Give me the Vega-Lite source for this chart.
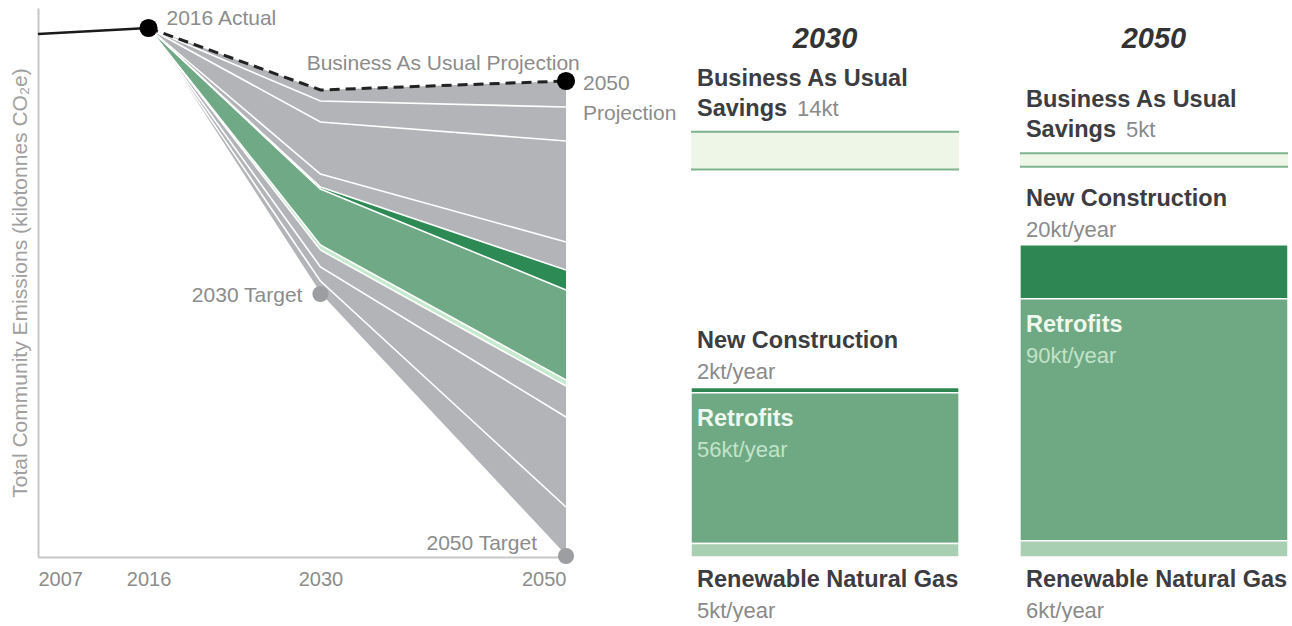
{
  "$schema": "https://vega.github.io/schema/vega-lite/v6.json",
  "background": "white",
  "padding": {"left": 9, "top": 8, "right": 0, "bottom": 0},
  "bounds": "flush",
  "spacing": 125,
  "config": {"view": {"stroke": null}, "font": "Liberation Sans"},
  "resolve": {"scale": {"color": "independent"}},
  "datasets": {
    "bands": [
      {"band": "g1", "kind": "other", "year": 2016, "hi": 529, "lo": 529},
      {"band": "g1", "kind": "other", "year": 2030, "hi": 467, "lo": 456},
      {"band": "g1", "kind": "other", "year": 2050, "hi": 476, "lo": 450},
      {"band": "g2", "kind": "other", "year": 2016, "hi": 529, "lo": 529},
      {"band": "g2", "kind": "other", "year": 2030, "hi": 456, "lo": 435},
      {"band": "g2", "kind": "other", "year": 2050, "hi": 450, "lo": 416},
      {"band": "g3", "kind": "other", "year": 2016, "hi": 529, "lo": 529},
      {"band": "g3", "kind": "other", "year": 2030, "hi": 435, "lo": 383},
      {"band": "g3", "kind": "other", "year": 2050, "hi": 416, "lo": 315},
      {"band": "g4", "kind": "other", "year": 2016, "hi": 529, "lo": 529},
      {"band": "g4", "kind": "other", "year": 2030, "hi": 383, "lo": 370},
      {"band": "g4", "kind": "other", "year": 2050, "hi": 315, "lo": 287},
      {"band": "nc", "kind": "nc", "year": 2016, "hi": 529, "lo": 529},
      {"band": "nc", "kind": "nc", "year": 2030, "hi": 370, "lo": 368},
      {"band": "nc", "kind": "nc", "year": 2050, "hi": 287, "lo": 267},
      {"band": "rf", "kind": "rf", "year": 2016, "hi": 529, "lo": 529},
      {"band": "rf", "kind": "rf", "year": 2030, "hi": 368, "lo": 312},
      {"band": "rf", "kind": "rf", "year": 2050, "hi": 267, "lo": 177},
      {"band": "rng", "kind": "rng", "year": 2016, "hi": 529, "lo": 529},
      {"band": "rng", "kind": "rng", "year": 2030, "hi": 312, "lo": 307},
      {"band": "rng", "kind": "rng", "year": 2050, "hi": 177, "lo": 171},
      {"band": "g5", "kind": "other", "year": 2016, "hi": 529, "lo": 529},
      {"band": "g5", "kind": "other", "year": 2030, "hi": 307, "lo": 290},
      {"band": "g5", "kind": "other", "year": 2050, "hi": 171, "lo": 140},
      {"band": "g6", "kind": "other", "year": 2016, "hi": 529, "lo": 529},
      {"band": "g6", "kind": "other", "year": 2030, "hi": 290, "lo": 276},
      {"band": "g6", "kind": "other", "year": 2050, "hi": 140, "lo": 50},
      {"band": "g7", "kind": "other", "year": 2016, "hi": 529, "lo": 529},
      {"band": "g7", "kind": "other", "year": 2030, "hi": 276, "lo": 263},
      {"band": "g7", "kind": "other", "year": 2050, "hi": 50, "lo": 1}
    ],
    "traj": [
      {"series": "actual", "year": 2007, "v": 523},
      {"series": "actual", "year": 2016, "v": 529},
      {"series": "bau", "year": 2016, "v": 529},
      {"series": "bau", "year": 2030, "v": 467},
      {"series": "bau", "year": 2050, "v": 476}
    ],
    "dots": [
      {"type": "actual", "year": 2016, "v": 529},
      {"type": "projection", "year": 2050, "v": 476},
      {"type": "target", "year": 2030, "v": 263},
      {"type": "target", "year": 2050, "v": 1}
    ],
    "notes": [
      {"id": "actual", "text": "2016 Actual", "year": 2016, "v": 529},
      {"id": "bau", "text": "Business As Usual Projection", "year": 2040, "v": 471.5},
      {"id": "proj", "text": "2050\nProjection", "year": 2050, "v": 476},
      {"id": "t2030", "text": "2030 Target", "year": 2030, "v": 263},
      {"id": "t2050", "text": "2050 Target", "year": 2050, "v": 1}
    ],
    "segs": [
      {"panel": "2030", "seg": "bau", "lo": 144, "hi": 158, "name1": "Business As Usual", "name2": "Savings", "amount": "14kt"},
      {"panel": "2030", "seg": "nc", "lo": 61, "hi": 63, "name1": "New Construction", "amount": "2kt/year"},
      {"panel": "2030", "seg": "rf", "lo": 5, "hi": 61, "name1": "Retrofits", "amount": "56kt/year"},
      {"panel": "2030", "seg": "rng", "lo": 0, "hi": 5, "name1": "Renewable Natural Gas", "amount": "5kt/year"},
      {"panel": "2050", "seg": "bau", "lo": 145, "hi": 150, "name1": "Business As Usual", "name2": "Savings", "amount": "5kt"},
      {"panel": "2050", "seg": "nc", "lo": 96, "hi": 116, "name1": "New Construction", "amount": "20kt/year"},
      {"panel": "2050", "seg": "rf", "lo": 6, "hi": 96, "name1": "Retrofits", "amount": "90kt/year"},
      {"panel": "2050", "seg": "rng", "lo": 0, "hi": 6, "name1": "Renewable Natural Gas", "amount": "6kt/year"}
    ]
  },
  "hconcat": [
    {
      "width": 528,
      "height": 549,
      "layer": [
        {
          "data": {"name": "bands"},
          "mark": {"type": "area", "opacity": 1},
          "encoding": {
            "x": {"field": "year", "type": "quantitative", "title": null,
              "scale": {"domain": [2007, 2050], "nice": false, "zero": false},
              "axis": {"values": [2007, 2016, 2030, 2050], "format": "d", "labelFlush": true, "labelFontSize": 20, "labelColor": "#8c8c8c", "labelPadding": 12, "ticks": false, "grid": false, "domainColor": "#c8c8c8", "domainWidth": 2}},
            "y": {"field": "hi", "type": "quantitative", "title": "Total Community Emissions (kilotonnes CO₂e)",
              "scale": {"domain": [0, 549], "nice": false},
              "axis": {"labels": false, "ticks": false, "grid": false, "domainColor": "#c8c8c8", "domainWidth": 2, "titleFontSize": 21, "titleFontWeight": "normal", "titleColor": "#a0a0a0", "titlePadding": 8}},
            "y2": {"field": "lo"},
            "color": {"field": "kind", "type": "nominal", "legend": null,
              "scale": {"domain": ["other", "nc", "rf", "rng"], "range": ["#b2b4b7", "#2e8a55", "#6fa985", "#c6eacd"]}},
            "detail": {"field": "band"}
          }
        },
        {
          "data": {"name": "bands"},
          "mark": {"type": "line", "color": "white", "strokeWidth": 1.6},
          "encoding": {
            "x": {"field": "year", "type": "quantitative", "title": null},
            "y": {"field": "lo", "type": "quantitative", "title": "Total Community Emissions (kilotonnes CO₂e)"},
            "detail": {"field": "band"}
          }
        },
        {
          "data": {"name": "traj"},
          "transform": [{"filter": "datum.series == 'actual'"}],
          "mark": {"type": "line", "color": "#1a1a1a", "strokeWidth": 2.5},
          "encoding": {
            "x": {"field": "year", "type": "quantitative", "title": null},
            "y": {"field": "v", "type": "quantitative", "title": "Total Community Emissions (kilotonnes CO₂e)"}
          }
        },
        {
          "data": {"name": "traj"},
          "transform": [{"filter": "datum.series == 'bau'"}],
          "mark": {"type": "line", "color": "#222222", "strokeWidth": 3, "strokeDash": [10, 6]},
          "encoding": {
            "x": {"field": "year", "type": "quantitative", "title": null},
            "y": {"field": "v", "type": "quantitative", "title": "Total Community Emissions (kilotonnes CO₂e)"}
          }
        },
        {
          "data": {"name": "dots"},
          "transform": [{"filter": "datum.type != 'target'"}],
          "mark": {"type": "circle", "color": "#000000", "opacity": 1, "size": 330},
          "encoding": {
            "x": {"field": "year", "type": "quantitative", "title": null},
            "y": {"field": "v", "type": "quantitative", "title": "Total Community Emissions (kilotonnes CO₂e)"}
          }
        },
        {
          "data": {"name": "dots"},
          "transform": [{"filter": "datum.type == 'target'"}],
          "mark": {"type": "circle", "color": "#9d9ea1", "opacity": 1, "size": 260},
          "encoding": {
            "x": {"field": "year", "type": "quantitative", "title": null},
            "y": {"field": "v", "type": "quantitative", "title": "Total Community Emissions (kilotonnes CO₂e)"}
          }
        },
        {
          "data": {"name": "notes"},
          "transform": [{"filter": "datum.id == 'actual'"}],
          "mark": {"type": "text", "align": "left", "baseline": "middle", "dx": 18, "dy": -9, "fontSize": 21, "color": "#8c8c8c"},
          "encoding": {
            "x": {"field": "year", "type": "quantitative", "title": null},
            "y": {"field": "v", "type": "quantitative", "title": "Total Community Emissions (kilotonnes CO₂e)"},
            "text": {"field": "text"}
          }
        },
        {
          "data": {"name": "notes"},
          "transform": [{"filter": "datum.id == 'bau'"}],
          "mark": {"type": "text", "align": "center", "baseline": "middle", "dy": -22, "fontSize": 21, "color": "#8c8c8c"},
          "encoding": {
            "x": {"field": "year", "type": "quantitative", "title": null},
            "y": {"field": "v", "type": "quantitative", "title": "Total Community Emissions (kilotonnes CO₂e)"},
            "text": {"field": "text"}
          }
        },
        {
          "data": {"name": "notes"},
          "transform": [{"filter": "datum.id == 'proj'"}],
          "mark": {"type": "text", "align": "left", "baseline": "top", "dx": 17, "dy": -8, "fontSize": 21, "lineHeight": 30, "lineBreak": "\n", "color": "#8c8c8c"},
          "encoding": {
            "x": {"field": "year", "type": "quantitative", "title": null},
            "y": {"field": "v", "type": "quantitative", "title": "Total Community Emissions (kilotonnes CO₂e)"},
            "text": {"field": "text"}
          }
        },
        {
          "data": {"name": "notes"},
          "transform": [{"filter": "datum.id == 't2030'"}],
          "mark": {"type": "text", "align": "right", "baseline": "middle", "dx": -18, "dy": 2, "fontSize": 21, "color": "#8c8c8c"},
          "encoding": {
            "x": {"field": "year", "type": "quantitative", "title": null},
            "y": {"field": "v", "type": "quantitative", "title": "Total Community Emissions (kilotonnes CO₂e)"},
            "text": {"field": "text"}
          }
        },
        {
          "data": {"name": "notes"},
          "transform": [{"filter": "datum.id == 't2050'"}],
          "mark": {"type": "text", "align": "right", "baseline": "middle", "dx": -29, "dy": -12, "fontSize": 21, "color": "#8c8c8c"},
          "encoding": {
            "x": {"field": "year", "type": "quantitative", "title": null},
            "y": {"field": "v", "type": "quantitative", "title": "Total Community Emissions (kilotonnes CO₂e)"},
            "text": {"field": "text"}
          }
        }
      ]
    },
    {
      "width": 597,
      "height": 549,
      "data": {"name": "segs"},
      "layer": [
        {
          "transform": [{"filter": "datum.seg != 'bau'"}],
          "mark": {"type": "bar", "stroke": "white", "strokeWidth": 1.5},
          "encoding": {
            "x": {"field": "panel", "type": "nominal", "title": null,
              "scale": {"domain": ["2030", "2050"], "paddingInner": 0.185, "paddingOuter": 0},
              "axis": {"orient": "top", "offset": -45, "labelFontSize": 29, "labelFontWeight": "bold", "labelFontStyle": "italic", "labelColor": "#333333", "labelAngle": 0, "labelBaseline": "bottom", "domain": false, "ticks": false, "tickSize": 0, "labelPadding": 0, "grid": false}},
            "y": {"field": "hi", "type": "quantitative", "title": null, "scale": {"domain": [0, 204], "nice": false}, "axis": null},
            "y2": {"field": "lo"},
            "color": {"field": "seg", "type": "nominal", "legend": null,
              "scale": {"domain": ["bau", "nc", "rf", "rng"], "range": ["#eef6e7", "#2e8753", "#6fa984", "#a8cfb2"]}}
          }
        },
        {
          "transform": [{"filter": "datum.seg == 'bau'"}],
          "mark": {"type": "bar"},
          "encoding": {
            "x": {"field": "panel", "type": "nominal", "title": null},
            "y": {"field": "hi", "type": "quantitative", "title": null},
            "y2": {"field": "lo"},
            "color": {"field": "seg", "type": "nominal", "legend": null}
          }
        },
        {
          "transform": [{"filter": "datum.seg == 'bau'"}],
          "mark": {"type": "tick", "orient": "horizontal", "size": 268, "thickness": 2, "color": "#7db38f", "opacity": 1},
          "encoding": {
            "x": {"field": "panel", "type": "nominal", "title": null},
            "y": {"field": "hi", "type": "quantitative", "title": null}
          }
        },
        {
          "transform": [{"filter": "datum.seg == 'bau'"}],
          "mark": {"type": "tick", "orient": "horizontal", "size": 268, "thickness": 2, "color": "#7db38f", "opacity": 1},
          "encoding": {
            "x": {"field": "panel", "type": "nominal", "title": null},
            "y": {"field": "lo", "type": "quantitative", "title": null}
          }
        },
        {
          "transform": [{"filter": "datum.seg == 'bau'"}],
          "mark": {"type": "text", "align": "left", "baseline": "middle", "dx": 6, "dy": -53, "fontSize": 23.5, "fontWeight": "bold", "color": "#3c3c41"},
          "encoding": {
            "x": {"field": "panel", "type": "nominal", "title": null, "bandPosition": 0},
            "y": {"field": "hi", "type": "quantitative", "title": null},
            "text": {"field": "name1"}
          }
        },
        {
          "transform": [{"filter": "datum.seg == 'bau'"}],
          "mark": {"type": "text", "align": "left", "baseline": "middle", "dx": 6, "dy": -23, "fontSize": 23.5, "fontWeight": "bold", "color": "#3c3c41"},
          "encoding": {
            "x": {"field": "panel", "type": "nominal", "title": null, "bandPosition": 0},
            "y": {"field": "hi", "type": "quantitative", "title": null},
            "text": {"field": "name2"}
          }
        },
        {
          "transform": [{"filter": "datum.seg == 'bau'"}],
          "mark": {"type": "text", "align": "left", "baseline": "middle", "dx": 106, "dy": -23, "fontSize": 22, "color": "#8a8a8a"},
          "encoding": {
            "x": {"field": "panel", "type": "nominal", "title": null, "bandPosition": 0},
            "y": {"field": "hi", "type": "quantitative", "title": null},
            "text": {"field": "amount"}
          }
        },
        {
          "transform": [{"filter": "datum.seg == 'nc'"}],
          "mark": {"type": "text", "align": "left", "baseline": "middle", "dx": 6, "dy": -46, "fontSize": 23.5, "fontWeight": "bold", "color": "#3c3c41"},
          "encoding": {
            "x": {"field": "panel", "type": "nominal", "title": null, "bandPosition": 0},
            "y": {"field": "hi", "type": "quantitative", "title": null},
            "text": {"field": "name1"}
          }
        },
        {
          "transform": [{"filter": "datum.seg == 'nc'"}],
          "mark": {"type": "text", "align": "left", "baseline": "middle", "dx": 6, "dy": -15, "fontSize": 22, "color": "#8a8a8a"},
          "encoding": {
            "x": {"field": "panel", "type": "nominal", "title": null, "bandPosition": 0},
            "y": {"field": "hi", "type": "quantitative", "title": null},
            "text": {"field": "amount"}
          }
        },
        {
          "transform": [{"filter": "datum.seg == 'rf'"}],
          "mark": {"type": "text", "align": "left", "baseline": "middle", "dx": 6, "dy": 26, "fontSize": 23.5, "fontWeight": "bold", "color": "#eef8ef"},
          "encoding": {
            "x": {"field": "panel", "type": "nominal", "title": null, "bandPosition": 0},
            "y": {"field": "hi", "type": "quantitative", "title": null},
            "text": {"field": "name1"}
          }
        },
        {
          "transform": [{"filter": "datum.seg == 'rf'"}],
          "mark": {"type": "text", "align": "left", "baseline": "middle", "dx": 6, "dy": 57, "fontSize": 22, "color": "#c2e3c9"},
          "encoding": {
            "x": {"field": "panel", "type": "nominal", "title": null, "bandPosition": 0},
            "y": {"field": "hi", "type": "quantitative", "title": null},
            "text": {"field": "amount"}
          }
        },
        {
          "transform": [{"filter": "datum.seg == 'rng'"}],
          "mark": {"type": "text", "align": "left", "baseline": "middle", "dx": 6, "dy": 23, "fontSize": 23.5, "fontWeight": "bold", "color": "#3c3c41"},
          "encoding": {
            "x": {"field": "panel", "type": "nominal", "title": null, "bandPosition": 0},
            "y": {"field": "lo", "type": "quantitative", "title": null},
            "text": {"field": "name1"}
          }
        },
        {
          "transform": [{"filter": "datum.seg == 'rng'"}],
          "mark": {"type": "text", "align": "left", "baseline": "middle", "dx": 6, "dy": 54, "fontSize": 22, "color": "#8a8a8a"},
          "encoding": {
            "x": {"field": "panel", "type": "nominal", "title": null, "bandPosition": 0},
            "y": {"field": "lo", "type": "quantitative", "title": null},
            "text": {"field": "amount"}
          }
        }
      ]
    }
  ]
}
